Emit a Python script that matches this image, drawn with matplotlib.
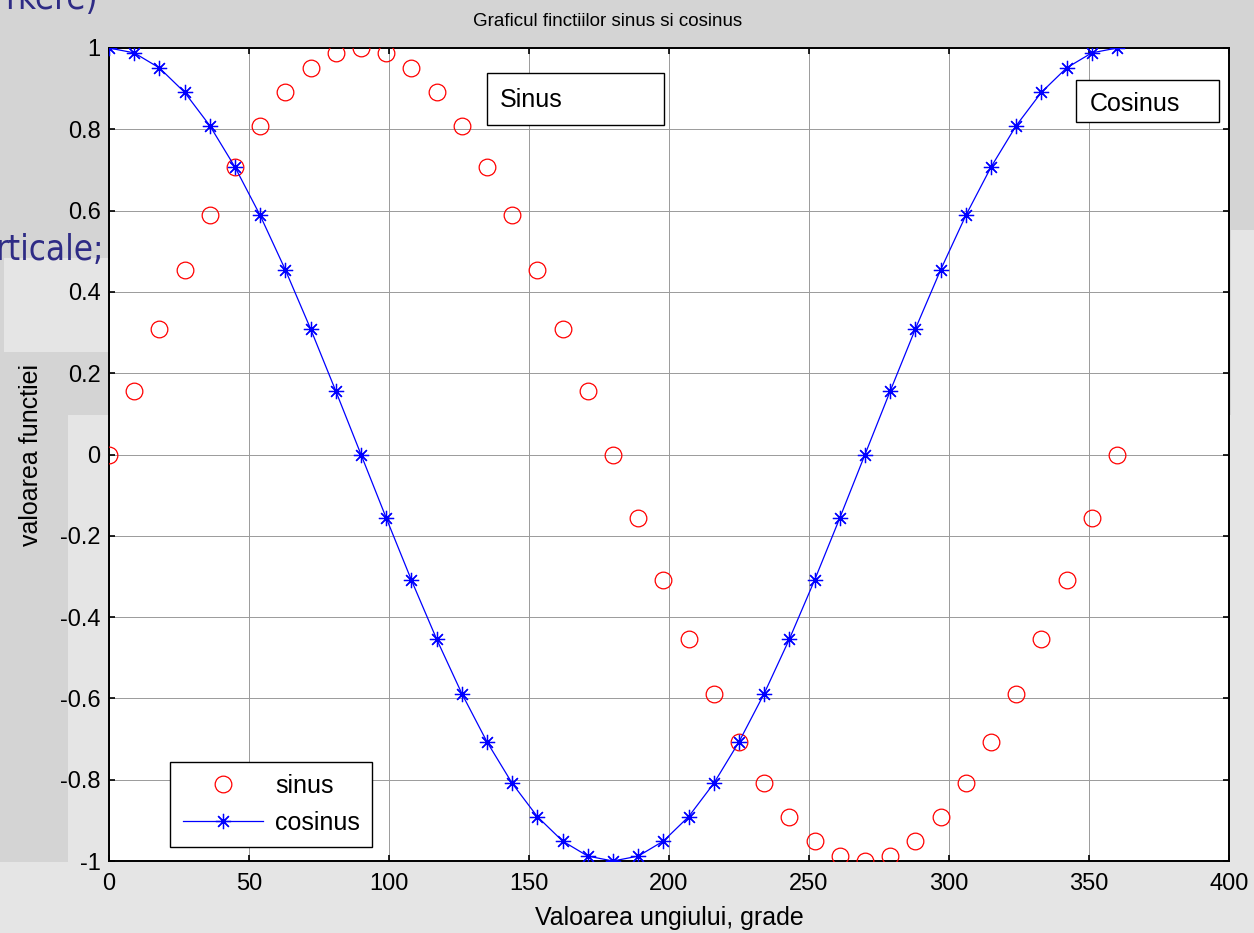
"""
Recreate the MATLAB-style sine / cosine chart (screenshot on a grey slide background).
"""

import matplotlib
matplotlib.use('Agg')
import matplotlib.pyplot as plt
from matplotlib import font_manager
from matplotlib.font_manager import FontProperties
from matplotlib.patches import Rectangle

# angles in degrees, 9 degree step
ANGLES = [0, 9, 18, 27, 36, 45, 54, 63, 72, 81, 90, 99, 108, 117, 126, 135, 144,
          153, 162, 171, 180, 189, 198, 207, 216, 225, 234, 243, 252, 261, 270,
          279, 288, 297, 306, 315, 324, 333, 342, 351, 360]

SINUS = [0.000, 0.156, 0.309, 0.454, 0.588, 0.707, 0.809, 0.891, 0.951, 0.988,
         1.000, 0.988, 0.951, 0.891, 0.809, 0.707, 0.588, 0.454, 0.309, 0.156,
         0.000, -0.156, -0.309, -0.454, -0.588, -0.707, -0.809, -0.891, -0.951,
         -0.988, -1.000, -0.988, -0.951, -0.891, -0.809, -0.707, -0.588, -0.454,
         -0.309, -0.156, 0.000]

COSINUS = [1.000, 0.988, 0.951, 0.891, 0.809, 0.707, 0.588, 0.454, 0.309, 0.156,
           0.000, -0.156, -0.309, -0.454, -0.588, -0.707, -0.809, -0.891, -0.951,
           -0.988, -1.000, -0.988, -0.951, -0.891, -0.809, -0.707, -0.588, -0.454,
           -0.309, -0.156, 0.000, 0.156, 0.309, 0.454, 0.588, 0.707, 0.809, 0.891,
           0.951, 0.988, 1.000]

X_TICKS = [0, 50, 100, 150, 200, 250, 300, 350, 400]
Y_TICKS = [-1, -0.8, -0.6, -0.4, -0.2, 0, 0.2, 0.4, 0.6, 0.8, 1]
Y_TICK_LABELS = ['-1', '-0.8', '-0.6', '-0.4', '-0.2', '0', '0.2', '0.4', '0.6', '0.8', '1']

W, H = 1254, 933
DARK_BG = '#d4d4d4'
LIGHT_BG = '#e5e5e5'
SLIDE_BLUE = '#2e2b85'

plt.rcParams['font.family'] = ['Liberation Sans', 'DejaVu Sans']
plt.rcParams['axes.unicode_minus'] = False


def narrow_font():
    """Look for a condensed sans font for the slide fragments; None if there is none."""
    for entry in font_manager.fontManager.ttflist:
        name = entry.name.lower()
        if entry.style != 'normal' or entry.weight not in (400, 'normal'):
            continue
        if 'narrow' in name or 'condensed' in name or entry.stretch == 'condensed':
            return FontProperties(fname=entry.fname)
    return None


def fig_rect(fig, x0, y0, x1, y1, color):
    """Rectangle given in pixel coords (top-left origin) drawn behind the axes."""
    fig.add_artist(Rectangle((x0 / W, 1 - y1 / H), (x1 - x0) / W, (y1 - y0) / H,
                             transform=fig.transFigure, facecolor=color,
                             edgecolor='none', zorder=-5))


def draw_background(fig):
    """Bits of the slide that show around the MATLAB figure."""
    fig_rect(fig, 68, 415, W, H, LIGHT_BG)
    fig_rect(fig, 1231, 230, W, H, LIGHT_BG)
    fig_rect(fig, 0, 862, 68, H, LIGHT_BG)
    fig_rect(fig, 4, 258, 108, 352, LIGHT_BG)

    fp = narrow_font()
    if fp is not None:
        fp.set_size(25)
    else:
        fp = FontProperties(family='Liberation Sans', size=23)
    fig.text(98 / W, 1 - 9 / H, 'rkere)', ha='right', va='baseline',
             fontproperties=fp, color=SLIDE_BLUE, zorder=-4)
    fig.text(104 / W, 1 - 260 / H, 'rticale;', ha='right', va='baseline',
             fontproperties=fp, color=SLIDE_BLUE, zorder=-4)


def plot_functions():
    fig = plt.figure(figsize=(W / 100, H / 100), dpi=100, facecolor=DARK_BG)
    draw_background(fig)

    ax = fig.add_axes([109 / W, 1 - 861 / H, 1120 / W, 813 / H])
    ax.set_facecolor('white')

    ax.plot(ANGLES, SINUS, linestyle='none', marker='o', markersize=12,
            markerfacecolor='none', markeredgecolor='#ff0000', markeredgewidth=0.9,
            label='sinus', zorder=3)
    ax.plot(ANGLES, COSINUS, color='#0000ff', linewidth=0.9, marker=(8, 2, 0),
            markersize=11, markeredgewidth=0.9, label='cosinus', zorder=4)

    ax.set_xlim(0, 400)
    ax.set_ylim(-1, 1)
    ax.set_xticks(X_TICKS)
    ax.set_xticklabels([str(t) for t in X_TICKS])
    ax.set_yticks(Y_TICKS)
    ax.set_yticklabels(Y_TICK_LABELS)
    ax.tick_params(direction='in', top=True, right=True, length=4, width=1.2,
                   labelsize=17, colors='black')
    ax.tick_params(axis='x', pad=9)
    ax.tick_params(axis='y', pad=6)
    for spine in ax.spines.values():
        spine.set_linewidth(1.4)
    ax.grid(True, color='#9a9a9a', linewidth=0.7, linestyle='-')
    ax.set_axisbelow(True)

    ax.set_xlabel('Valoarea ungiului, grade', fontsize=18)
    ax.xaxis.label.set_va('center')
    ax.xaxis.set_label_coords(0.5, (861 - 918) / 813)
    ax.set_ylabel('valoarea functiei', fontsize=18)
    ax.yaxis.label.set_va('center')
    ax.yaxis.set_label_coords((31 - 109) / 1120, 0.5)

    fig.text(473 / W, 1 - 21 / H, 'Graficul finctiilor sinus si cosinus',
             ha='left', va='center', fontsize=13.5)

    # text annotations with frames, as in the MATLAB figure
    ax.add_patch(Rectangle((0.3375, 0.9053), 0.158, 0.0639, transform=ax.transAxes,
                           facecolor='white', edgecolor='black', linewidth=1.0, zorder=5))
    ax.text(0.349, 0.936, 'Sinus', transform=ax.transAxes, fontsize=18,
            ha='left', va='center', zorder=6)
    ax.add_patch(Rectangle((0.8634, 0.909), 0.1277, 0.0516, transform=ax.transAxes,
                           facecolor='white', edgecolor='black', linewidth=1.0, zorder=5))
    ax.text(0.876, 0.931, 'Cosinus', transform=ax.transAxes, fontsize=18,
            ha='left', va='center', zorder=6)

    leg = ax.legend(loc='lower left', bbox_to_anchor=(0.0545, 0.0172), borderaxespad=0,
                    fontsize=18, fancybox=False, framealpha=1, edgecolor='black',
                    handlelength=3.2, handletextpad=0.5, labelspacing=0.5, borderpad=0.5)
    leg.get_frame().set_linewidth(1.0)

    fig.savefig('out.png', dpi=100, facecolor=fig.get_facecolor())


if __name__ == '__main__':
    plot_functions()
